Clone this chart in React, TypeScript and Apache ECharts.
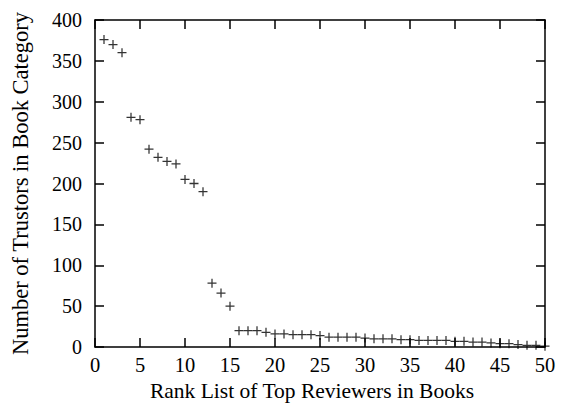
import React, { useEffect, useRef } from "react";
import * as echarts from "echarts";

const ranks: number[] = Array.from({ length: 50 }, (_, i) => i + 1);
const trustors: number[] = [
  376, 370, 360, 281, 278, 242, 232, 227, 224, 205,
  200, 190, 78, 66, 50, 20, 20, 20, 18, 16,
  16, 15, 15, 15, 14, 12, 12, 12, 12, 11,
  10, 10, 10, 9, 9, 8, 8, 8, 8, 7,
  7, 6, 6, 5, 4, 4, 3, 2, 2, 1,
];
const xTicks = { min: 0, max: 50, interval: 5 };
const yTicks = { min: 0, max: 400, interval: 50 };
const xName = "Rank List of Top Reviewers in Books";
const yName = "Number of Trustors in Book Category";

const FONT = "Liberation Serif";

const mkLine = () => ({ show: true, onZero: false, lineStyle: { color: "#000", width: 1.5 } });
const mkTick = () => ({ show: true, inside: true, length: 9, lineStyle: { color: "#000", width: 1.5 } });

export default function App() {
  const ref = useRef<HTMLDivElement>(null);
  useEffect(() => {
    if (!ref.current) return;
    const chart = echarts.init(ref.current, null, { renderer: "svg" });
    chart.setOption({
      animation: false,
      backgroundColor: "#fff",
      grid: { left: 95, right: 18, top: 20, bottom: 56, outerBoundsMode: "none", containLabel: false },
      xAxis: [
        {
          type: "value",
          position: "bottom",
          ...xTicks,
          name: xName,
          nameLocation: "middle",
          nameGap: 31,
          nameTextStyle: { fontFamily: FONT, fontSize: 21.5, color: "#000", padding: [0, 16, 0, 0] },
          axisLine: mkLine(),
          axisTick: mkTick(),
          splitLine: { show: false },
          axisLabel: { fontFamily: FONT, fontSize: 20.5, color: "#000", margin: 7 },
        },
        {
          type: "value",
          position: "top",
          ...xTicks,
          axisLine: mkLine(),
          axisTick: mkTick(),
          splitLine: { show: false },
          axisLabel: { show: false },
        },
      ],
      yAxis: [
        {
          type: "value",
          position: "left",
          ...yTicks,
          name: yName,
          nameLocation: "middle",
          nameGap: 63,
          nameTextStyle: { fontFamily: FONT, fontSize: 22.5, color: "#000" },
          axisLine: mkLine(),
          axisTick: mkTick(),
          splitLine: { show: false },
          axisLabel: { fontFamily: FONT, fontSize: 20, color: "#000", margin: 13 },
        },
        {
          type: "value",
          position: "right",
          ...yTicks,
          axisLine: mkLine(),
          axisTick: mkTick(),
          splitLine: { show: false },
          axisLabel: { show: false },
        },
      ],
      series: [
        {
          type: "scatter",
          xAxisIndex: 0,
          yAxisIndex: 0,
          data: ranks.map((r, i) => [r, trustors[i]]),
          symbol: "path://M4.3,0H5.7V10H4.3Z M0,4.3H10V5.7H0Z",
          symbolSize: 9,
          itemStyle: { color: "#000" },
        },
      ],
    });
    return () => chart.dispose();
  }, []);
  return <div ref={ref} style={{ width: 563, height: 403, position: "absolute", left: 0, top: 0 }} />;
}
